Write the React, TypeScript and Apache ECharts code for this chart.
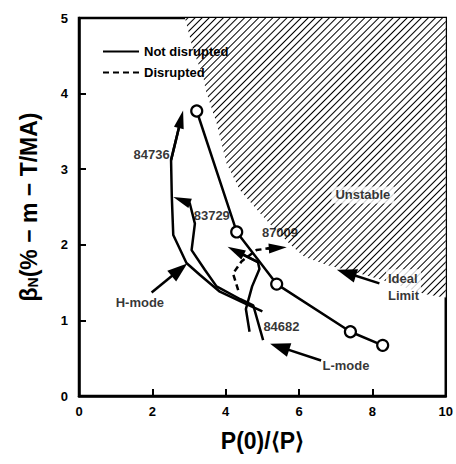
import React, { useEffect, useRef } from 'react';
import * as echarts from 'echarts';

// Ideal stability limit (lower edge of the hatched "Unstable" region)
const limitX = [2.89, 3.11, 3.39, 3.45, 3.75, 4.02, 4.39, 4.93, 5.35, 5.79, 6.15, 6.78, 7.51, 8.5, 9.42, 10];
const limitY = [5.0, 4.58, 4.22, 4.05, 3.61, 3.08, 2.72, 2.42, 2.2, 1.99, 1.84, 1.73, 1.64, 1.5, 1.35, 1.3];

// Open-circle path (not disrupted)
const idealX = [3.21, 4.3, 5.39, 7.4, 8.28];
const idealY = [3.77, 2.17, 1.48, 0.85, 0.67];

// Discharge trajectories
const shot84736X = [5.0, 4.55, 3.84, 3.3, 2.93, 2.57, 2.53, 2.51, 2.78];
const shot84736Y = [1.12, 1.22, 1.38, 1.6, 1.76, 2.13, 2.64, 3.12, 3.66];

const shot83729X = [5.02, 4.75, 4.4, 3.75, 3.43, 3.07, 3.16, 3.02, 2.8];
const shot83729Y = [0.74, 1.2, 1.28, 1.45, 1.67, 1.93, 2.28, 2.55, 2.59];

const shot84682X = [4.65, 4.55, 4.72, 4.92, 4.88, 4.27];
const shot84682Y = [0.85, 1.15, 1.45, 1.68, 1.77, 1.92];

const shot87009X = [4.34, 4.2, 4.43, 4.84, 5.13, 5.42];
const shot87009Y = [1.4, 1.62, 1.78, 1.93, 1.95, 1.96];

// Annotation pointers (tail -> head)
const pointerNames = ['H-mode', 'L-mode', 'Ideal Limit'];
const pointerTailX = [1.98, 6.6, 8.19];
const pointerTailY = [1.37, 0.47, 1.49];
const pointerHeadX = [2.74, 5.47, 7.29];
const pointerHeadY = [1.67, 0.65, 1.63];

// Text labels
const labelTexts = ['84736', '83729', '87009', '84682', 'H-mode', 'L-mode', 'Unstable', 'Ideal\nLimit'];
const labelX = [1.98, 3.62, 5.48, 5.52, 1.66, 7.28, 7.74, 8.37];
const labelY = [3.19, 2.39, 2.16, 0.92, 1.24, 0.41, 2.66, 1.44];

const zip = (xs: number[], ys: number[]) => xs.map((x, i) => [x, ys[i]]);
const lastSeg = (xs: number[], ys: number[]) => {
  const n = xs.length;
  return { coords: [[xs[n - 2], ys[n - 2]], [xs[n - 1], ys[n - 1]]] };
};

const FONT = 'Liberation Sans, Arial, sans-serif';

export default function App() {
  const ref = useRef<HTMLDivElement>(null);
  useEffect(() => {
    if (!ref.current) return;
    const chart = echarts.init(ref.current, undefined, { renderer: 'svg' });
    const hatch = {
      symbol: 'rect',
      symbolSize: 1,
      color: '#000',
      dashArrayX: [1, 0],
      dashArrayY: [1, 4],
      rotation: -Math.PI / 4,
    };
    const trajStyle = { color: '#000', width: 2.5 };
    const option: any = {
      animation: false,
      backgroundColor: '#fff',
      textStyle: { fontFamily: FONT },
      grid: {
        left: 79,
        right: 10,
        top: 18,
        bottom: 68,
        show: true,
        borderColor: '#000',
        borderWidth: 2.5,
        backgroundColor: 'transparent',
      },
      legend: {
        data: ['Not disrupted', 'Disrupted'],
        orient: 'vertical',
        left: 97,
        top: 40,
        itemWidth: 36,
        itemHeight: 14,
        itemGap: 8,
        itemStyle: { opacity: 0 },
        textStyle: { fontFamily: FONT, fontWeight: 'bold', fontSize: 13, color: '#000' },
      },
      xAxis: {
        type: 'value',
        min: 0,
        max: 10,
        interval: 2,
        name: 'P(0)/⟨P⟩',
        nameLocation: 'middle',
        nameGap: 33,
        nameTextStyle: { fontFamily: FONT, fontWeight: 'bold', fontSize: 23, color: '#000' },
        axisLine: { show: true, lineStyle: { color: '#000', width: 2.5 } },
        axisTick: { show: true, inside: true, length: 7, lineStyle: { color: '#000', width: 2 } },
        splitLine: { show: false },
        axisLabel: { fontFamily: FONT, fontWeight: 'bold', fontSize: 13, color: '#000', margin: 9 },
      },
      yAxis: {
        type: 'value',
        min: 0,
        max: 5,
        interval: 1,
        name: '{b|β}{s|N}{b|(% − m − T/MA)}',
        nameLocation: 'middle',
        nameGap: 39,
        nameTextStyle: {
          color: '#000',
          rich: {
            b: { fontFamily: FONT, fontWeight: 'bold', fontSize: 23, color: '#000' },
            s: { fontFamily: FONT, fontWeight: 'bold', fontSize: 14, color: '#000', verticalAlign: 'bottom' },
          },
        },
        axisLine: { show: true, lineStyle: { color: '#000', width: 2.5 } },
        axisTick: { show: true, inside: true, length: 7, lineStyle: { color: '#000', width: 2 } },
        splitLine: { show: false },
        axisLabel: { fontFamily: FONT, fontWeight: 'bold', fontSize: 13, color: '#000', margin: 11 },
      },
      series: [
        {
          name: 'Unstable region',
          type: 'line',
          data: zip(limitX, limitY),
          symbol: 'none',
          smooth: false,
          lineStyle: { width: 0, decal: hatch },
          itemStyle: { decal: hatch },
          areaStyle: { origin: 'end', color: '#fff', opacity: 1 },
          z: 1,
        },
        {
          name: 'Not disrupted',
          type: 'line',
          data: zip(shot84736X, shot84736Y),
          symbol: 'none',
          lineStyle: trajStyle,
          itemStyle: { color: '#000' },
          z: 3,
        },
        {
          name: '83729',
          type: 'line',
          data: zip(shot83729X, shot83729Y),
          symbol: 'none',
          lineStyle: trajStyle,
          itemStyle: { color: '#000' },
          z: 3,
        },
        {
          name: '84682',
          type: 'line',
          data: zip(shot84682X, shot84682Y),
          symbol: 'none',
          lineStyle: trajStyle,
          itemStyle: { color: '#000' },
          z: 3,
        },
        {
          name: 'Disrupted',
          type: 'line',
          data: zip(shot87009X, shot87009Y),
          symbol: 'none',
          lineStyle: { color: '#000', width: 2.5, type: [6, 4] },
          itemStyle: { color: '#000' },
          z: 3,
        },
        {
          name: 'Ideal path',
          type: 'line',
          data: zip(idealX, idealY),
          symbol: 'circle',
          symbolSize: 11,
          lineStyle: { color: '#000', width: 2.5 },
          itemStyle: { color: '#fff', borderColor: '#000', borderWidth: 2.2 },
          z: 5,
        },
        {
          name: 'trajectory heads',
          type: 'lines',
          coordinateSystem: 'cartesian2d',
          symbol: ['none', 'triangle'],
          symbolSize: [0, [10, 18]],
          lineStyle: { color: '#000', width: 2.5, opacity: 1 },
          data: [
            lastSeg(shot84736X, shot84736Y),
            lastSeg(shot83729X, shot83729Y),
            lastSeg(shot84682X, shot84682Y),
            lastSeg(shot87009X, shot87009Y),
          ],
          z: 4,
        },
        {
          name: 'pointers',
          type: 'lines',
          coordinateSystem: 'cartesian2d',
          symbol: ['none', 'triangle'],
          symbolSize: [0, [14, 20]],
          lineStyle: { color: '#000', width: 2.5, opacity: 1 },
          data: pointerNames.map((n, i) => ({
            name: n,
            coords: [
              [pointerTailX[i], pointerTailY[i]],
              [pointerHeadX[i], pointerHeadY[i]],
            ],
          })),
          z: 4,
        },
        {
          name: 'labels',
          type: 'scatter',
          symbolSize: 0,
          silent: true,
          z: 6,
          data: labelTexts.map((t, i) => ({
            name: t,
            value: [labelX[i], labelY[i]],
            label:
              t === 'Unstable'
                ? { backgroundColor: '#fff', padding: [2, 4] }
                : t.startsWith('Ideal')
                ? { align: 'left', backgroundColor: '#fff', padding: [1, 2], lineHeight: 17 }
                : {},
          })),
          label: {
            show: true,
            position: 'inside',
            formatter: '{b}',
            fontFamily: FONT,
            fontWeight: 'bold',
            fontSize: 13,
            color: '#000',
          },
        },
      ],
    };
    chart.setOption(option);
    return () => chart.dispose();
  }, []);
  return (
    <div
      ref={ref}
      style={{ position: 'absolute', left: 0, top: 0, width: 456, height: 464, background: '#fff' }}
    />
  );
}
